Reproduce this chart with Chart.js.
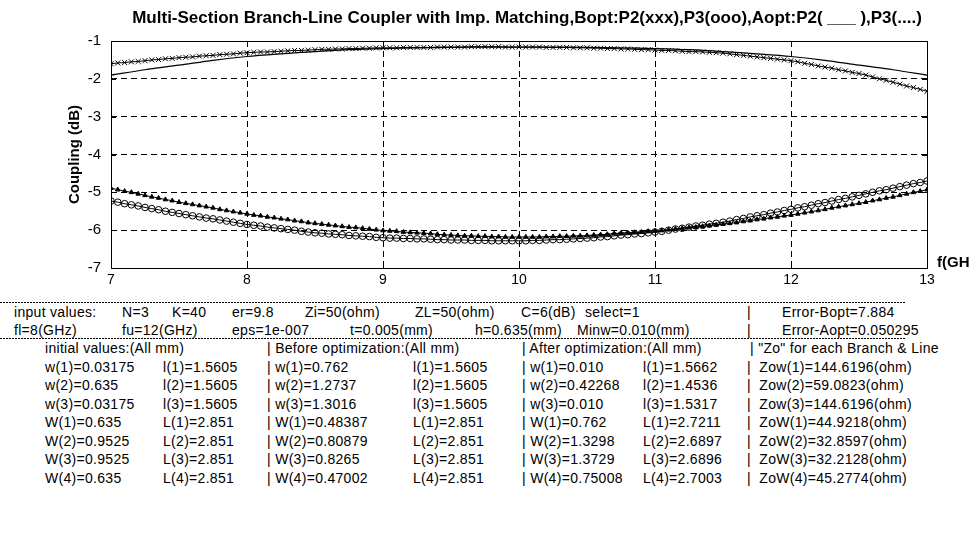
<!DOCTYPE html>
<html>
<head>
<meta charset="utf-8">
<script src="https://cdn.jsdelivr.net/npm/chart.js@4.4.1/dist/chart.umd.min.js"></script>
<style>
  html, body { margin:0; padding:0; background:#fff; }
  #wrap { position:relative; width:969px; height:536px; overflow:hidden; background:#fff; }
  #cv { position:absolute; left:0; top:0; }
  .t { position:absolute; font-family:"Liberation Sans", Arial, sans-serif; font-size:14px; letter-spacing:0.3px; color:#000; white-space:pre; line-height:18px; }
  .dash { position:absolute; height:1px; background:repeating-linear-gradient(to right,#000 0 2px,transparent 2px 3px); }
</style>
</head>
<body>
<div id="wrap">
  <canvas id="cv" width="969" height="300"></canvas>
</div>
<script>
// ---------- data ----------
const titleText = 'Multi-Section Branch-Line Coupler with Imp. Matching,Bopt:P2(xxx),P3(ooo),Aopt:P2( ___ ),P3(....)';
const freq = [7.00,7.05,7.10,7.15,7.20,7.25,7.30,7.35,7.40,7.45,7.50,7.55,7.60,7.65,7.70,7.75,7.80,7.85,7.90,7.95,
  8.00,8.05,8.10,8.15,8.20,8.25,8.30,8.35,8.40,8.45,8.50,8.55,8.60,8.65,8.70,8.75,8.80,8.85,8.90,8.95,
  9.00,9.05,9.10,9.15,9.20,9.25,9.30,9.35,9.40,9.45,9.50,9.55,9.60,9.65,9.70,9.75,9.80,9.85,9.90,9.95,
  10.00,10.05,10.10,10.15,10.20,10.25,10.30,10.35,10.40,10.45,10.50,10.55,10.60,10.65,10.70,10.75,10.80,10.85,10.90,10.95,
  11.00,11.05,11.10,11.15,11.20,11.25,11.30,11.35,11.40,11.45,11.50,11.55,11.60,11.65,11.70,11.75,11.80,11.85,11.90,11.95,
  12.00,12.05,12.10,12.15,12.20,12.25,12.30,12.35,12.40,12.45,12.50,12.55,12.60,12.65,12.70,12.75,12.80,12.85,12.90,12.95,13.00];

// P2 before optimization (xxx)
const p2Bopt = [-1.60,-1.58,-1.57,-1.55,-1.54,-1.52,-1.50,-1.49,-1.47,-1.46,-1.44,
  -1.43,-1.42,-1.40,-1.39,-1.38,-1.36,-1.35,-1.34,-1.32,-1.31,
  -1.30,-1.29,-1.29,-1.28,-1.27,-1.26,-1.25,-1.25,-1.24,-1.23,
  -1.22,-1.22,-1.21,-1.21,-1.20,-1.20,-1.19,-1.19,-1.18,-1.18,
  -1.18,-1.18,-1.17,-1.17,-1.17,-1.17,-1.17,-1.16,-1.16,-1.16,
  -1.16,-1.16,-1.15,-1.15,-1.15,-1.15,-1.15,-1.16,-1.16,-1.16,
  -1.16,-1.16,-1.16,-1.17,-1.17,-1.17,-1.17,-1.18,-1.18,-1.18,
  -1.19,-1.19,-1.20,-1.20,-1.21,-1.21,-1.22,-1.23,-1.23,-1.24,
  -1.25,-1.25,-1.26,-1.27,-1.28,-1.28,-1.29,-1.30,-1.31,-1.32,
  -1.34,-1.36,-1.38,-1.40,-1.42,-1.44,-1.46,-1.48,-1.50,-1.52,
  -1.55,-1.59,-1.62,-1.66,-1.69,-1.72,-1.76,-1.79,-1.83,-1.86,
  -1.90,-1.95,-2.00,-2.04,-2.09,-2.14,-2.19,-2.23,-2.28,-2.33];

// P3 before optimization (ooo)
const p3Bopt = [-5.23,-5.26,-5.30,-5.33,-5.36,-5.40,-5.43,-5.46,-5.50,-5.53,-5.56,
  -5.59,-5.62,-5.65,-5.68,-5.70,-5.73,-5.76,-5.79,-5.82,-5.85,
  -5.87,-5.89,-5.92,-5.94,-5.96,-5.98,-6.00,-6.03,-6.05,-6.07,
  -6.08,-6.10,-6.11,-6.12,-6.14,-6.15,-6.16,-6.17,-6.19,-6.20,
  -6.21,-6.21,-6.22,-6.22,-6.23,-6.23,-6.24,-6.25,-6.25,-6.26,
  -6.26,-6.26,-6.27,-6.27,-6.27,-6.28,-6.28,-6.28,-6.28,-6.28,
  -6.28,-6.27,-6.27,-6.26,-6.25,-6.25,-6.24,-6.23,-6.22,-6.21,
  -6.20,-6.18,-6.17,-6.15,-6.13,-6.12,-6.10,-6.09,-6.07,-6.05,
  -6.03,-6.00,-5.97,-5.95,-5.92,-5.89,-5.87,-5.84,-5.82,-5.79,
  -5.76,-5.72,-5.69,-5.65,-5.62,-5.59,-5.55,-5.52,-5.48,-5.45,
  -5.41,-5.38,-5.34,-5.30,-5.27,-5.23,-5.19,-5.16,-5.12,-5.08,
  -5.04,-5.00,-4.96,-4.93,-4.89,-4.85,-4.81,-4.77,-4.74,-4.70];

// P3 after optimization (....)
const p3Aopt = [-4.89,-4.93,-4.97,-5.00,-5.04,-5.08,-5.12,-5.15,-5.19,-5.22,-5.26,
  -5.29,-5.32,-5.35,-5.38,-5.41,-5.45,-5.48,-5.51,-5.54,-5.57,
  -5.60,-5.62,-5.65,-5.67,-5.70,-5.72,-5.75,-5.77,-5.80,-5.82,
  -5.84,-5.86,-5.88,-5.90,-5.92,-5.93,-5.95,-5.97,-5.99,-6.01,
  -6.02,-6.03,-6.05,-6.06,-6.07,-6.08,-6.09,-6.11,-6.12,-6.13,
  -6.14,-6.15,-6.15,-6.16,-6.16,-6.17,-6.17,-6.18,-6.18,-6.18,
  -6.18,-6.18,-6.18,-6.17,-6.17,-6.16,-6.16,-6.15,-6.15,-6.14,
  -6.13,-6.12,-6.11,-6.09,-6.08,-6.07,-6.06,-6.05,-6.03,-6.02,
  -6.01,-5.99,-5.97,-5.95,-5.93,-5.92,-5.90,-5.88,-5.86,-5.84,
  -5.82,-5.80,-5.77,-5.75,-5.72,-5.70,-5.67,-5.65,-5.62,-5.60,
  -5.57,-5.54,-5.51,-5.48,-5.45,-5.41,-5.38,-5.35,-5.32,-5.29,
  -5.26,-5.22,-5.19,-5.15,-5.12,-5.08,-5.04,-5.00,-4.97,-4.93,-4.89];

// P2 after optimization (solid line)
const freqLine = [7,7.25,7.5,7.75,8,8.25,8.5,8.75,9,9.25,9.5,9.75,10,10.25,10.5,10.75,11,11.25,11.5,11.75,12,12.25,12.5,12.75,13];
const p2Aopt = [-1.90,-1.76,-1.64,-1.51,-1.41,-1.34,-1.28,-1.23,-1.20,-1.18,-1.17,-1.16,-1.16,-1.16,-1.17,-1.18,-1.20,-1.23,-1.28,-1.34,-1.41,-1.51,-1.64,-1.76,-1.90];

const xTicks = [7,8,9,10,11,12,13];
const yTicks = [-1,-2,-3,-4,-5,-6,-7];

// ---------- table text ----------
const inputRow1 = [['input values:',14],['N=3',122],['K=40',172],['er=9.8',232],['Zi=50(ohm)',305],['ZL=50(ohm)',415],['C=6(dB)',521],['select=1',585],['|',747],['Error-Bopt=7.884',782]];
const inputRow2 = [['fl=8(GHz)',14],['fu=12(GHz)',122],['eps=1e-007',232],['t=0.005(mm)',350],['h=0.635(mm)',475],['Minw=0.010(mm)',577],['|',747],['Error-Aopt=0.050295',782]];
const headRow = [['initial values:(All mm)',45],['| Before optimization:(All mm)',267],['| After optimization:(All mm)',522],['| "Zo" for each Branch & Line',750]];
const initCol1 = ['w(1)=0.03175','w(2)=0.635','w(3)=0.03175','W(1)=0.635','W(2)=0.9525','W(3)=0.9525','W(4)=0.635'];
const initCol2 = ['l(1)=1.5605','l(2)=1.5605','l(3)=1.5605','L(1)=2.851','L(2)=2.851','L(3)=2.851','L(4)=2.851'];
const befCol1 = ['| w(1)=0.762','| w(2)=1.2737','| w(3)=1.3016','| W(1)=0.48387','| W(2)=0.80879','| W(3)=0.8265','| W(4)=0.47002'];
const befCol2 = ['l(1)=1.5605','l(2)=1.5605','l(3)=1.5605','L(1)=2.851','L(2)=2.851','L(3)=2.851','L(4)=2.851'];
const aftCol1 = ['| w(1)=0.010','| w(2)=0.42268','| w(3)=0.010','| W(1)=0.762','| W(2)=1.3298','| W(3)=1.3729','| W(4)=0.75008'];
const aftCol2 = ['l(1)=1.5662','l(2)=1.4536','l(3)=1.5317','L(1)=2.7211','L(2)=2.6897','L(3)=2.6896','L(4)=2.7003'];
const zoCol = ['|  Zow(1)=144.6196(ohm)','|  Zow(2)=59.0823(ohm)','|  Zow(3)=144.6196(ohm)','|  ZoW(1)=44.9218(ohm)','|  ZoW(2)=32.8597(ohm)','|  ZoW(3)=32.2128(ohm)','|  ZoW(4)=45.2774(ohm)'];

// ---------- build table ----------
const wrap = document.getElementById('wrap');
function put(text, x, yc) {
  const d = document.createElement('div');
  d.className = 't';
  d.textContent = text;
  d.style.left = x + 'px';
  d.style.top = (yc - 9) + 'px';
  wrap.appendChild(d);
}
function dash(y, x0, x1) {
  const d = document.createElement('div');
  d.className = 'dash';
  d.style.left = x0 + 'px'; d.style.top = y + 'px'; d.style.width = (x1 - x0) + 'px';
  wrap.appendChild(d);
}
dash(302, 0, 905);
dash(338, 0, 905);
inputRow1.forEach(([s, x]) => put(s, x, 312));
inputRow2.forEach(([s, x]) => put(s, x, 330));
headRow.forEach(([s, x]) => put(s, x, 348));
const rowY0 = 366.5, rowStep = 18.5;
initCol1.forEach((s, i) => put(s, 45, rowY0 + i * rowStep));
initCol2.forEach((s, i) => put(s, 163, rowY0 + i * rowStep));
befCol1.forEach((s, i) => put(s, 267, rowY0 + i * rowStep));
befCol2.forEach((s, i) => put(s, 413, rowY0 + i * rowStep));
aftCol1.forEach((s, i) => put(s, 522, rowY0 + i * rowStep));
aftCol2.forEach((s, i) => put(s, 643, rowY0 + i * rowStep));
zoCol.forEach((s, i) => put(s, 747, rowY0 + i * rowStep));

// ---------- chart ----------
const pts = (xs, ys) => xs.map((x, i) => ({ x: x, y: ys[i] }));

const framePlugin = {
  id: 'frame',
  afterDatasetsDraw(chart) {
    const { ctx, chartArea: a, scales } = chart;
    ctx.save();
    ctx.strokeStyle = '#000';
    ctx.lineWidth = 1;
    ctx.setLineDash([]);
    ctx.strokeRect(Math.round(a.left) + 0.5, Math.round(a.top) + 0.5, Math.round(a.right - a.left), Math.round(a.bottom - a.top));
    ctx.beginPath();
    xTicks.forEach(v => {
      const x = Math.round(scales.x.getPixelForValue(v)) + 0.5;
      ctx.moveTo(x, a.bottom); ctx.lineTo(x, a.bottom - 5);
      ctx.moveTo(x, a.top); ctx.lineTo(x, a.top + 5);
    });
    yTicks.forEach(v => {
      const y = Math.round(scales.y.getPixelForValue(v)) + 0.5;
      ctx.moveTo(a.left, y); ctx.lineTo(a.left + 5, y);
      ctx.moveTo(a.right, y); ctx.lineTo(a.right - 5, y);
    });
    ctx.stroke();
    ctx.fillStyle = '#000';
    ctx.font = 'bold 17px "Liberation Sans", Arial, sans-serif';
    ctx.textAlign = 'center';
    ctx.textBaseline = 'middle';
    ctx.fillText(titleText, 527, 18);
    ctx.textAlign = 'left';
    ctx.font = 'bold 15px "Liberation Sans", Arial, sans-serif';
    ctx.fillText('f(GHz)', 937, 263);
    ctx.restore();
  }
};

new Chart(document.getElementById('cv'), {
  type: 'line',
  data: {
    datasets: [
      { label: 'P2 Bopt', data: pts(freq, p2Bopt), borderColor: '#000', borderWidth: 1,
        pointStyle: 'crossRot', pointRadius: 3.5, pointBorderColor: '#000', pointBorderWidth: 1, fill: false, tension: 0 },
      { label: 'P2 Aopt', data: pts(freqLine, p2Aopt), borderColor: '#000', borderWidth: 1.2,
        pointRadius: 0, fill: false, tension: 0.3 },
      { label: 'P3 Bopt', data: pts(freq, p3Bopt), borderColor: '#000', borderWidth: 1,
        pointStyle: 'circle', pointRadius: 3.3, pointBackgroundColor: 'rgba(255,255,255,0)', pointBorderColor: '#000', pointBorderWidth: 1, fill: false, tension: 0 },
      { label: 'P3 Aopt', data: pts(freq, p3Aopt), borderColor: '#000', borderWidth: 1,
        pointStyle: 'triangle', pointRadius: 2.6, pointBackgroundColor: '#000', pointBorderColor: '#000', pointBorderWidth: 1, fill: false, tension: 0 }
    ]
  },
  options: {
    responsive: false,
    animation: false,
    events: [],
    layout: { padding: { left: 0, right: 42, top: 41, bottom: 0 } },
    plugins: { legend: { display: false }, tooltip: { enabled: false }, title: { display: false } },
    scales: {
      x: {
        type: 'linear', min: 7, max: 13,
        afterFit: s => { s.height = 32; },
        afterBuildTicks: s => { s.ticks = xTicks.map(v => ({ value: v })); },
        ticks: { color: '#000', font: { family: '"Liberation Sans", Arial, sans-serif', size: 14 }, padding: 4, maxRotation: 0 },
        grid: { color: '#000', lineWidth: 1, drawTicks: false },
        border: { display: false, dash: [6, 4] }
      },
      y: {
        type: 'linear', min: -7, max: -1,
        afterFit: s => { s.width = 111; },
        afterBuildTicks: s => { s.ticks = yTicks.map(v => ({ value: v })); },
        ticks: { color: '#000', font: { family: '"Liberation Sans", Arial, sans-serif', size: 15 }, padding: 10 },
        grid: { color: '#000', lineWidth: 1, drawTicks: false },
        border: { display: false, dash: [6, 4] },
        title: { display: true, text: 'Coupling (dB)', color: '#000', font: { family: '"Liberation Sans", Arial, sans-serif', size: 15, weight: 'bold' }, padding: { top: 66, bottom: 0 } }
      }
    }
  },
  plugins: [framePlugin]
});
</script>
</body>
</html>
